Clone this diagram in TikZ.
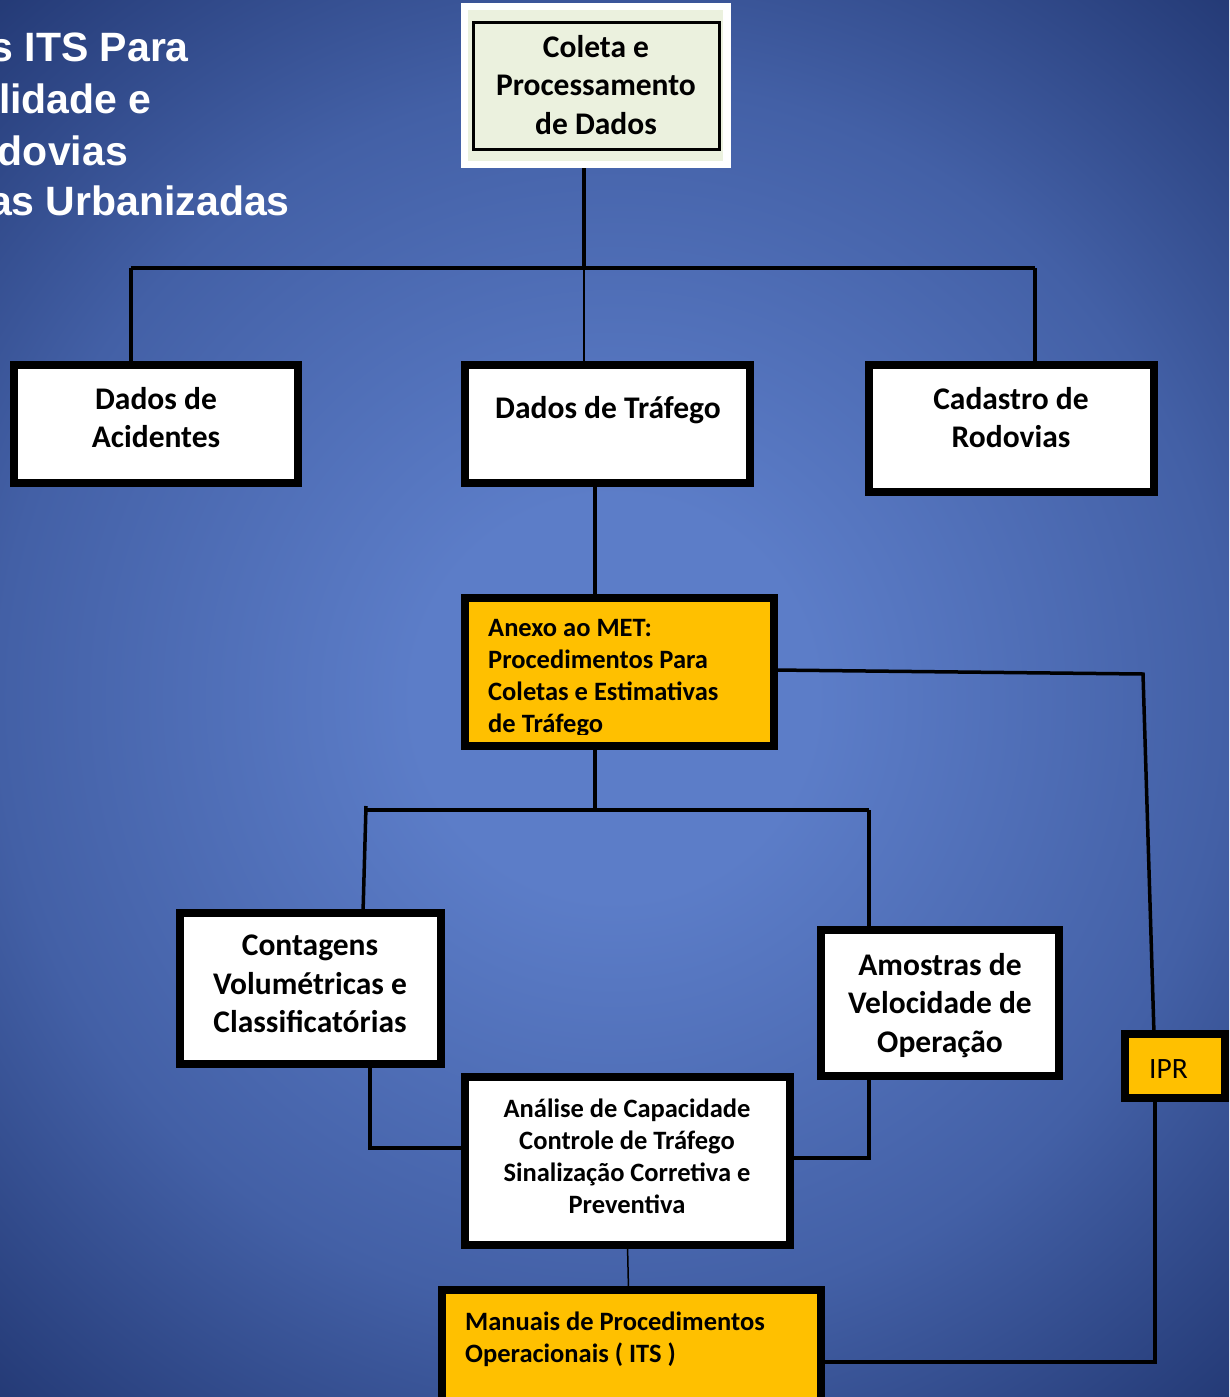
\documentclass[tikz,border=0pt]{standalone}
\usepackage{fontspec}
\newfontfamily\boxfont{Carlito}
\newfontfamily\titlefont{Liberation Sans}
\usetikzlibrary{calc}
\definecolor{bgin}{RGB}{92,125,200}
\definecolor{bgmid}{RGB}{67,96,166}
\definecolor{bgout}{RGB}{36,58,118}
\definecolor{gold}{RGB}{255,192,0}
\definecolor{paleg}{RGB}{235,241,222}
\pgfdeclareradialshading{bgshade}{\pgfpoint{0bp}{0bp}}{color(0bp)=(bgin); color(200bp)=(bgin); color(614bp)=(bgmid); color(930bp)=(bgout)}
\pgfdeclarelayer{bg}
\pgfdeclarelayer{lines}
\pgfsetlayers{bg,lines,main}
\begin{document}
\begin{tikzpicture}[x=1pt,y=-1pt,
  box/.style={draw=black, line width=8pt, fill=white, inner sep=0pt, outer sep=0pt, rectangle},
  goldbox/.style={box, fill=gold},
  bigtxt/.style={font=\boxfont\bfseries\fontsize{31.5}{38.5}\selectfont, align=center, inner sep=0pt, anchor=north, execute at begin node={\rule{0pt}{1em}}},
  smalltxt/.style={font=\boxfont\bfseries\fontsize{26.5}{32}\selectfont, inner sep=0pt, execute at begin node={\rule{0pt}{1em}}},
  titletxt/.style={font=\titlefont\bfseries\fontsize{41}{51}\selectfont, text=white, inner sep=0pt, anchor=base east},
  link/.style={line width=3.5pt, draw=black},
  thinlink/.style={line width=1.5pt, draw=black}]
\useasboundingbox (0,0) rectangle (1229,1397);
\begin{pgfonlayer}{bg}
\fill[bgout] (0,0) rectangle (1229,1397);
\begin{scope}
\clip (0,0) rectangle (1229,1397);
\pgftransformshift{\pgfpointxy{614}{698}}
\pgflowlevelsynccm
\pgfuseshading{bgshade}
\end{scope}
\end{pgfonlayer}

% title
\node[titletxt] (t1) at (189,62) {s ITS Para};
\node[titletxt] (t2) at (152,113) {lidade e};
\node[titletxt] (t3) at (128,165) {dovias};
\node[titletxt] (t4) at (290,215) {as Urbanizadas};

% Coleta
\node[fill=white, inner sep=0pt, outer sep=0pt, minimum width=270, minimum height=165] (colbg) at (596,85.5) {};
\node[fill=paleg, inner sep=0pt, outer sep=0pt, minimum width=255, minimum height=151] (colgr) at (595.5,85.5) {};
\node[draw=black, line width=3pt, fill=paleg, inner sep=0pt, outer sep=0pt, minimum width=246, minimum height=126] (col) at (596,86) {};
\node[bigtxt] (colt) at (596,35) {Coleta e\\Processamento\\de Dados};

% second row
\node[box, minimum width=284, minimum height=118] (acid) at (156,424) {};
\node[bigtxt] (acidt) at (156,387) {Dados de\\Acidentes};
\node[box, minimum width=285, minimum height=118] (traf) at (607.5,424) {};
\node[bigtxt] (traft) at (608,387) {Dados de Tráfego};
\node[box, minimum width=285, minimum height=127] (cad) at (1011.5,428.5) {};
\node[bigtxt] (cadt) at (1011,387) {Cadastro de\\Rodovias};

% Anexo
\node[goldbox, minimum width=309, minimum height=148] (anexo) at (619.5,672) {};
\begin{scope}
\clip (465,598) rectangle (774,734);
\node[smalltxt, align=left, anchor=north west] (anexot) at (488,619) {Anexo ao MET:\\Procedimentos Para\\Coletas e Estimativas\\de Tráfego};
\end{scope}

% third row
\node[box, minimum width=261, minimum height=151] (cont) at (310.5,988.5) {};
\node[bigtxt] (contt) at (310,935) {Contagens\\Volumétricas e\\Classificatórias};
\node[box, minimum width=238, minimum height=146] (amo) at (940,1003) {};
\node[bigtxt] (amot) at (940,953) {Amostras de\\Velocidade de\\Operação};
\node[goldbox, minimum width=100, minimum height=64] (ipr) at (1175,1066) {};
\node[font=\boxfont\fontsize{29.5}{36}\selectfont, inner sep=0pt, anchor=base west] (iprt) at (1149,1078) {IPR};

% Analise
\node[box, minimum width=325, minimum height=168] (anal) at (627.5,1161) {};
\node[smalltxt, align=center, anchor=north] (analt) at (627,1099) {Análise de Capacidade\\Controle de Tráfego\\Sinalização Corretiva e\\Preventiva};

% Manuais
\node[goldbox, minimum width=379, minimum height=130] (man) at (631.5,1355) {};
\node[smalltxt, align=left, anchor=north west] (mant) at (465,1312) {Manuais de Procedimentos\\Operacionais ( ITS )};

% connectors
\coordinate (busL) at (131,268);
\coordinate (busR) at (1035,268);
\coordinate (busM) at (584,268);
\coordinate (b2L) at (366,810);
\coordinate (b2R) at (869,810);
\coordinate (b2M) at (595,810);
\coordinate (b2Ltop) at (366,806);
\coordinate (contin) at (363,913);
\coordinate (ipk) at (1143,674);
\coordinate (ipb) at (1155,1362);
\coordinate (ck) at (370,1148);
\coordinate (ak) at (869,1158);
\begin{pgfonlayer}{lines}
\draw[link] (busM |- col.south) -- (busM);
\draw[link] (busL) -- (busR);
\draw[link] (busL) -- (busL |- acid.north);
\draw[link] (busR) -- (busR |- cad.north);
\draw[thinlink] (busM) -- (busM |- traf.north);
\draw[link] (b2M |- traf.south) -- (b2M |- anexo.north);
\draw[link] (b2M |- anexo.south) -- (b2M);
\draw[link] (b2L) -- (b2R);
\draw[link] (b2Ltop) -- (contin);
\draw[link] (b2R) -- (b2R |- amo.north);
\draw[link] ([yshift=2pt]anexo.east) -- (ipk) -- ([xshift=-21pt]ipr.north);
\draw[link] ([xshift=-20pt]ipr.south) -- (ipb) -- (ipb -| man.east);
\draw[link] (ck |- cont.south) -- (ck) -- (ck -| anal.west);
\draw[link] (ak |- amo.south) -- (ak) -- (ak -| anal.east);
\draw[thinlink] (anal.south) -- ([xshift=-3pt]man.north);
\end{pgfonlayer}
\end{tikzpicture}
\end{document}
